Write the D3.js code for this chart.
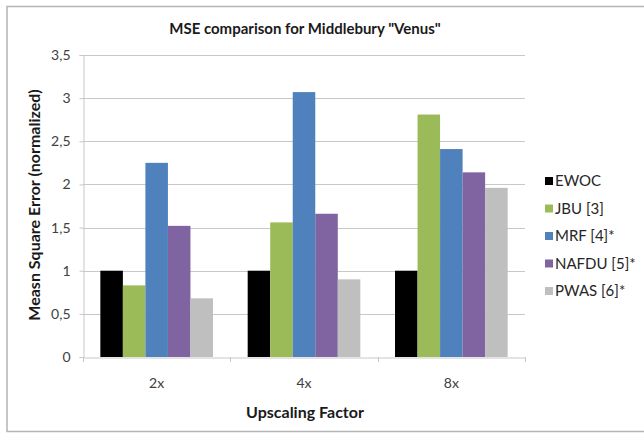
<!DOCTYPE html>
<html>
<head>
<meta charset="utf-8">
<script src="https://cdn.jsdelivr.net/npm/d3@7"></script>
<style>
  html, body { margin: 0; padding: 0; background: #fff; }
  svg { display: block; font-family: Lato, "Open Sans", sans-serif; }
</style>
</head>
<body>
<svg id="chart" width="644" height="434"></svg>
<script>
// Upscaling factors on the x axis
const categories = ["2x", "4x", "8x"];
// Methods compared, one bar per method in each group
const seriesNames = ["EWOC", "JBU [3]", "MRF [4]*", "NAFDU [5]*", "PWAS [6]*"];
const seriesColors = ["#000000", "#9BBB59", "#4F81BD", "#8064A2", "#BFBFBF"];
// Normalized MSE per method, indexed by upscaling factor
const ewoc  = [1.00, 1.00, 1.00];
const jbu   = [0.83, 1.56, 2.81];
const mrf   = [2.25, 3.07, 2.41];
const nafdu = [1.52, 1.66, 2.14];
const pwas  = [0.68, 0.90, 1.96];
const yTicks = [0, 0.5, 1, 1.5, 2, 2.5, 3, 3.5];

const seriesValues = [ewoc, jbu, mrf, nafdu, pwas];

const svg = d3.select("#chart");

// chart frame
svg.append("rect")
  .attr("x", 7).attr("y", 6.5)
  .attr("width", 700).attr("height", 425)
  .attr("fill", "#fff")
  .attr("stroke", "#b4b4b4").attr("stroke-width", 1.5);

const plot = { left: 83, right: 525, top: 55, bottom: 357 };

const x0 = d3.scaleBand().domain(categories).range([plot.left, plot.right]).padding(0);
const x1 = d3.scaleBand().domain(seriesNames).range([0, x0.bandwidth()])
  .paddingInner(0).paddingOuter(0.77);
const y = d3.scaleLinear().domain([0, 3.5]).range([plot.bottom, plot.top]);

const fmt = v => String(v).replace(".", ",");

// horizontal gridlines
svg.append("g")
  .selectAll("line")
  .data(yTicks.filter(t => t > 0))
  .join("line")
  .attr("x1", plot.left).attr("x2", plot.right)
  .attr("y1", d => Math.round(y(d)) + 0.5).attr("y2", d => Math.round(y(d)) + 0.5)
  .attr("stroke", "#c8c8c8").attr("stroke-width", 1);

// y axis
const yAxis = svg.append("g")
  .attr("transform", `translate(${plot.left + 0.5},0)`)
  .call(d3.axisLeft(y).tickValues(yTicks).tickFormat(fmt).tickSize(4).tickPadding(9));
yAxis.select(".domain").attr("stroke", "#c8c8c8");
yAxis.selectAll(".tick line").attr("stroke", "#c8c8c8");
yAxis.selectAll(".tick text")
  .attr("fill", "#404040").style("font-size", "14px").style("font-family", "Lato, sans-serif");

// x axis
const xAxis = svg.append("g")
  .attr("transform", `translate(0,${plot.bottom + 0.5})`)
  .call(d3.axisBottom(x0).tickSize(0).tickPadding(21));
xAxis.select(".domain").attr("stroke", "#c8c8c8");
xAxis.selectAll(".tick text")
  .attr("fill", "#404040").style("font-size", "14px").style("font-family", "Lato, sans-serif");
// category separators below the axis
svg.append("g")
  .selectAll("line")
  .data(categories.concat([null]))
  .join("line")
  .attr("x1", (d, i) => Math.round(plot.left + i * x0.step()) + 0.5)
  .attr("x2", (d, i) => Math.round(plot.left + i * x0.step()) + 0.5)
  .attr("y1", plot.bottom).attr("y2", plot.bottom + 5)
  .attr("stroke", "#c8c8c8");

// bars
const groups = svg.append("g")
  .selectAll("g")
  .data(categories)
  .join("g")
  .attr("transform", d => `translate(${x0(d)},0)`);

groups.selectAll("rect")
  .data((c, ci) => seriesNames.map((s, si) => ({ s, si, v: seriesValues[si][ci] })))
  .join("rect")
  .attr("x", d => x1(d.s))
  .attr("width", x1.bandwidth())
  .attr("y", d => y(d.v))
  .attr("height", d => y(0) - y(d.v))
  .attr("fill", d => seriesColors[d.si]);

// title
svg.append("text")
  .attr("x", 305).attr("y", 34)
  .attr("text-anchor", "middle")
  .style("font-size", "15px").style("font-weight", "bold")
  .attr("fill", "#1a1a1a")
  .text('MSE comparison for Middlebury "Venus"');

// axis titles
svg.append("text")
  .attr("transform", `translate(40,${(plot.top + plot.bottom) / 2 - 1}) rotate(-90)`)
  .attr("text-anchor", "middle")
  .style("font-size", "16px").style("font-weight", "bold")
  .attr("fill", "#1a1a1a")
  .text("Measn Square Error (normalized)");

svg.append("text")
  .attr("x", 305).attr("y", 418)
  .attr("text-anchor", "middle")
  .style("font-size", "16px").style("font-weight", "bold")
  .attr("fill", "#1a1a1a")
  .text("Upscaling Factor");

// legend
const legend = svg.append("g")
  .selectAll("g")
  .data(seriesNames)
  .join("g")
  .attr("transform", (d, i) => `translate(545,${181 + i * 27.5})`);
legend.append("rect")
  .attr("x", 0).attr("y", -4).attr("width", 8).attr("height", 8)
  .attr("fill", (d, i) => seriesColors[i]);
legend.append("text")
  .attr("x", 10).attr("y", 0).attr("dy", "0.35em")
  .style("font-size", "15px")
  .attr("fill", "#262626")
  .text(d => d);
</script>
</body>
</html>
